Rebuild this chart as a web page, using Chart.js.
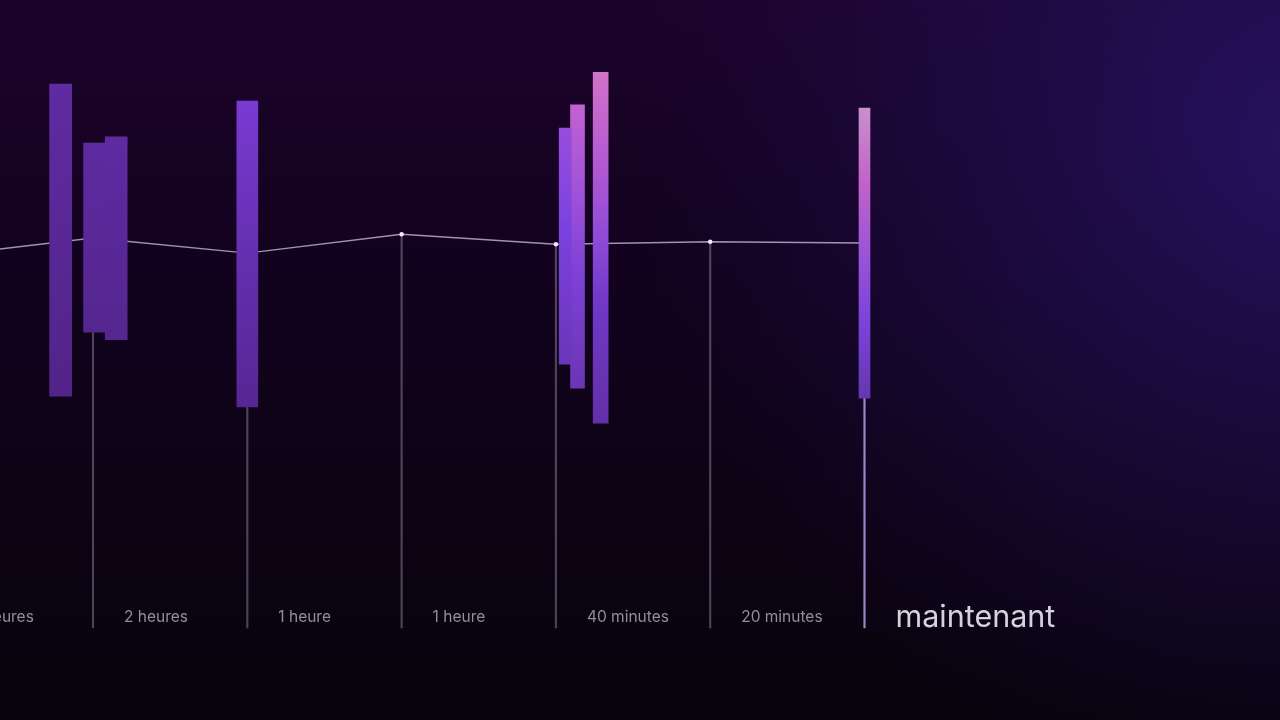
<!DOCTYPE html>
<html><head><meta charset="utf-8">
<script src="https://cdn.jsdelivr.net/npm/chart.js@4/dist/chart.umd.min.js"></script>
<style>html,body{margin:0;padding:0;background:#0c0414;overflow:hidden}#wrap{width:1280px;height:720px;position:relative}</style>
</head><body><div id="wrap"><canvas id="c"></canvas></div>
<script>
// ---- data ----
const timeLabels = ['3 heures', '2 heures', '1 heure', '1 heure', '40 minutes', '20 minutes', 'maintenant'];
const timeSlots = [0, 1, 2, 3, 4, 5, 6];
const lineValues = [59.2, 62.1, 59.7, 62.7, 61.1, 61.5, 61.3];
const stemBase = 0;
const candleX = [0.79, 1.01, 1.15, 2.0, 4.06, 4.14, 4.29, 6.0];
const candleLow = [36.9, 47.1, 45.9, 35.2, 42.0, 38.2, 32.6, 36.6];
const candleHigh = [86.6, 77.2, 78.2, 83.9, 79.6, 83.3, 88.5, 82.8];

// ---- styles ----
const candleWidth = [22, 22, 22, 21, 12, 14, 15, 11];
const candleStops = [
  [[0, '#5f2ba2'], [1, '#522488']],
  [[0, '#5e2aa0'], [1, '#55268f']],
  [[0, '#5e2aa2'], [1, '#55268f']],
  [[0, '#7a3ad2'], [0.5, '#6430b0'], [1, '#572694']],
  [[0, '#9a4cdc'], [0.4, '#7c42e0'], [1, '#6a36b8']],
  [[0, '#c262d2'], [0.35, '#9a50d8'], [0.6, '#7e40d6'], [1, '#6a36b4']],
  [[0, '#d272c8'], [0.25, '#b45ad2'], [0.5, '#8a48d8'], [0.65, '#7238c8'], [1, '#6330a8']],
  [[0, '#c890cc'], [0.25, '#c264c8'], [0.5, '#9a54d8'], [0.75, '#7a42d8'], [1, '#6636b0']]
];

function candleColor(i) {
  return (ctx) => {
    const chart = ctx.chart;
    const y = chart.scales && chart.scales.y;
    if (!y || !chart.chartArea) return candleStops[i][0][1];
    const top = y.getPixelForValue(candleHigh[i]);
    const bot = y.getPixelForValue(candleLow[i]);
    const g = chart.ctx.createLinearGradient(0, top, 0, bot);
    candleStops[i].forEach(s => g.addColorStop(s[0], s[1]));
    return g;
  };
}

const candleSets = candleX.map((x, i) => ({
  type: 'bar',
  data: [{ x: x, y: [candleLow[i], candleHigh[i]] }],
  backgroundColor: candleColor(i),
  borderWidth: 0,
  barThickness: candleWidth[i],
  grouped: false,
  order: 1
}));

const stemSet = {
  type: 'bar',
  data: timeSlots.map((s, i) => ({ x: s, y: [stemBase, lineValues[i]] })),
  backgroundColor: (c) => c.dataIndex === timeSlots.length - 1 ? 'rgba(176,160,235,0.85)' : 'rgba(190,182,205,0.36)',
  borderWidth: 0,
  barThickness: 1.5,
  grouped: false,
  clip: false,
  order: 3
};

const lineSet = {
  type: 'line',
  data: timeSlots.map((s, i) => ({ x: s, y: lineValues[i] })),
  borderColor: 'rgba(215,205,228,0.72)',
  borderWidth: 1.4,
  pointRadius: 2.2,
  pointBackgroundColor: '#f2ecf7',
  pointBorderWidth: 0,
  tension: 0,
  order: 2
};

const bgPlugin = {
  id: 'bg',
  beforeDraw(chart) {
    const { ctx, width, height } = chart;
    ctx.save();
    const g = ctx.createLinearGradient(0, 0, 0, height);
    g.addColorStop(0, '#1c032b');
    g.addColorStop(0.35, '#13021f');
    g.addColorStop(0.7, '#0c0314');
    g.addColorStop(1, '#08030c');
    ctx.fillStyle = g;
    ctx.fillRect(0, 0, width, height);
    const r = ctx.createRadialGradient(width * 1.02, height * 0.2, 0, width * 1.02, height * 0.2, width * 0.52);
    r.addColorStop(0, 'rgba(42,22,112,0.78)');
    r.addColorStop(0.5, 'rgba(36,18,95,0.42)');
    r.addColorStop(1, 'rgba(30,14,80,0)');
    ctx.fillStyle = r;
    ctx.fillRect(0, 0, width, height);
    ctx.restore();
  }
};

new Chart(document.getElementById('c'), {
  type: 'bar',
  data: { datasets: [...candleSets, lineSet, stemSet] },
  options: {
    responsive: true,
    maintainAspectRatio: false,
    animation: false,
    layout: { padding: 0, autoPadding: false },
    plugins: { legend: { display: false }, tooltip: { enabled: false } },
    scales: {
      x: {
        type: 'linear',
        offset: false,
        min: 0.397,
        max: 8.693,
        afterBuildTicks: (ax) => { ax.ticks = timeSlots.map(v => ({ value: v })); },
        afterFit: (ax) => { ax.height = 120; ax.paddingLeft = 0; ax.paddingRight = 0; },
        grid: { display: false, drawTicks: false, offset: false },
        border: { display: false },
        ticks: {
          autoSkip: false,
          maxRotation: 0,
          minRotation: 0,
          align: 'start',
          labelOffset: 31,
          padding: 9,
          callback: (v, i) => timeLabels[i],
          color: (c) => c.index === timeLabels.length - 1 ? '#d8d2de' : '#958d9d',
          font: (c) => c.index === timeLabels.length - 1
            ? { family: 'Inter', size: 30.5, lineHeight: 0.55 }
            : { family: 'Inter', size: 15.5, lineHeight: 1.08 }
        }
      },
      y: { display: false, min: 4.46, max: 100 }
    }
  },
  plugins: [bgPlugin]
});
</script>
</body></html>
